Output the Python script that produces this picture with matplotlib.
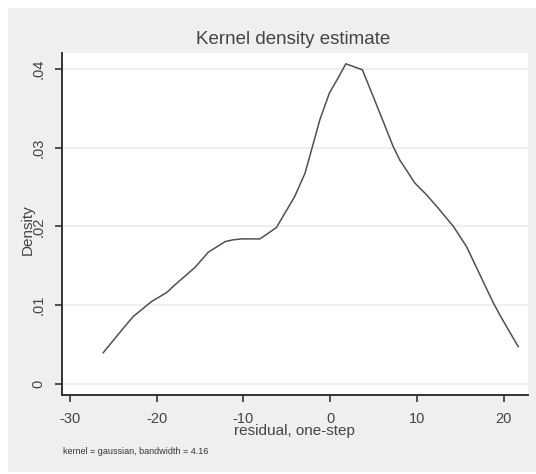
import matplotlib
matplotlib.use("Agg")
import matplotlib.pyplot as plt
from matplotlib.patches import Rectangle

# Kernel density of one-step residuals
residual = [-26.15, -24.0, -22.7, -20.6, -18.85, -17.9, -15.6, -14.05, -12.1, -11.2,
            -10.2, -8.1, -6.2, -4.1, -2.9, -2.1, -1.2, -0.1, 0.9, 1.8,
            3.7, 4.95, 6.1, 7.25, 8.0, 9.75, 11.1, 12.6, 14.2, 15.7,
            18.8, 19.75, 21.65]
density = [0.00397, 0.00686, 0.00855, 0.01045, 0.0116, 0.01257, 0.01477, 0.01672, 0.01807, 0.01829,
           0.01841, 0.01841, 0.01985, 0.02378, 0.02676, 0.02993, 0.03352, 0.03691, 0.03882, 0.04063,
           0.03987, 0.03648, 0.03331, 0.03013, 0.02844, 0.02549, 0.024, 0.0221, 0.01997, 0.01743,
           0.01025, 0.00834, 0.00474]

x_ticks = [-30, -20, -10, 0, 10, 20]
y_ticks = [0, 0.01, 0.02, 0.03, 0.04]
y_tick_labels = ["0", ".01", ".02", ".03", ".04"]

FONT = ["Liberation Sans", "DejaVu Sans"]
TXT = "#444444"

W, H = 536, 474
fig = plt.figure(figsize=(W / 100, H / 100), dpi=100)
fig.patch.set_facecolor("white")

# light grey graph region behind the plot area
fig.patches.append(Rectangle((8 / W, 2 / H), (W - 8) / W, (472 - 8) / H,
                             transform=fig.transFigure, facecolor="#efefef",
                             edgecolor="none", zorder=-10))

ax = fig.add_axes([62 / W, (H - 395) / H, (528 - 62) / W, (395 - 53) / H])
ax.set_zorder(1)
ax.set_facecolor("white")
ax.set_xlim(-30.9, 22.78)
ax.set_ylim(-0.0014, 0.0420)

for yv in y_ticks:
    ax.axhline(yv, color="#efefef", lw=1.5, zorder=1)

ax.plot(residual, density, color="#505050", lw=1.1, zorder=3)

for s in ("top", "right"):
    ax.spines[s].set_visible(False)
for s in ("left", "bottom"):
    ax.spines[s].set_color("#333333")
    ax.spines[s].set_linewidth(1.4)

ax.set_xticks(x_ticks)
ax.set_xticklabels([str(v) for v in x_ticks], fontfamily=FONT, fontsize=10.5, color=TXT)
ax.set_yticks(y_ticks)
ax.set_yticklabels(y_tick_labels, fontfamily=FONT, fontsize=10.5, color=TXT,
                   rotation=90, va="center")
ax.tick_params(axis="both", direction="out", length=5, width=1.2, color="#333333")
ax.tick_params(axis="x", pad=7)
ax.tick_params(axis="y", pad=7)

fig.text(293 / W, 1 - 40 / H, "Kernel density estimate", ha="center", va="center",
         fontfamily=FONT, fontsize=13.5, color=TXT)
fig.text(294 / W, 1 - 431 / H, "residual, one-step", ha="center", va="center",
         fontfamily=FONT, fontsize=11, color=TXT)
fig.text(28 / W, 1 - 230 / H, "Density", ha="center", va="center", rotation=90,
         fontfamily=FONT, fontsize=11, color=TXT)
fig.text(63 / W, 1 - 452 / H, "kernel = gaussian, bandwidth = 4.16", ha="left", va="center",
         fontfamily=FONT, fontsize=6.5, color="#333333")

fig.savefig("out.png", dpi=100)
